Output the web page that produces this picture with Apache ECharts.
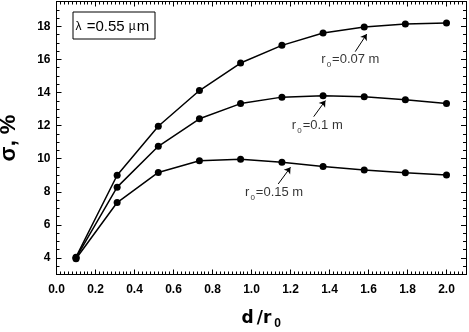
<!DOCTYPE html>
<html><head><meta charset="utf-8">
<script src="https://cdn.jsdelivr.net/npm/echarts@6/dist/echarts.min.js"></script>
<style>html,body{margin:0;padding:0;background:#fff}#c{width:469px;height:332px}</style>
</head><body><div id="c"></div>
<script>
// ---- data ----
const xValues   = [0.1, 0.311, 0.522, 0.733, 0.944, 1.156, 1.367, 1.578, 1.789, 2.0];
const sigmaR007 = [4.05, 9.0, 11.96, 14.12, 15.78, 16.85, 17.6, 17.96, 18.14, 18.2];
const sigmaR010 = [4.0, 8.28, 10.75, 12.41, 13.33, 13.72, 13.8, 13.74, 13.56, 13.33];
const sigmaR015 = [3.95, 7.35, 9.17, 9.88, 9.96, 9.78, 9.53, 9.31, 9.15, 9.01];
const radiusLabels = ['0.07', '0.1', '0.15'];
const xTickValues = [0, 0.2, 0.4, 0.6, 0.8, 1.0, 1.2, 1.4, 1.6, 1.8, 2.0];
const xTickLabels = ['0.0', '0.2', '0.4', '0.6', '0.8', '1.0', '1.2', '1.4', '1.6', '1.8', '2.0'];
const yTickValues = [4, 6, 8, 10, 12, 14, 16, 18];
const yTickLabels = ['4', '6', '8', '10', '12', '14', '16', '18'];
// annotation anchors (data units)
const labelAt   = [[1.358, 15.91], [1.207, 11.93], [0.967, 7.90]];
const arrowFrom = [[1.532, 16.47], [1.319, 12.54], [1.137, 8.47]];
const arrowTo   = [[1.591, 17.53], [1.379, 13.51], [1.200, 9.48]];

const BLACK = '#000';
const lineStyle = { color: BLACK, width: 1 };
function lookup(vals, labels, v) {
  const i = vals.findIndex(t => Math.abs(t - v) < 1e-6);
  return i >= 0 ? labels[i] : '';
}
function axis(pos, min, max, extra) {
  return Object.assign({
    type: 'value', position: pos, min: min, max: max,
    axisLine: { show: true, onZero: false, lineStyle: lineStyle },
    splitLine: { show: false },
    axisLabel: { show: false }
  }, extra);
}
const tickFont = { color: BLACK, fontFamily: 'Liberation Sans', fontWeight: 'bold', fontSize: 12 };

const xAxes = [
  axis('bottom', 0, 2.1, { interval: 0.02, axisTick: { inside: true, length: 3, lineStyle: lineStyle } }),
  axis('bottom', 0, 2.1, {
    interval: 0.2,
    axisTick: { inside: true, length: 5, lineStyle: lineStyle, customValues: xTickValues },
    axisLabel: Object.assign({ show: true, margin: 9, customValues: xTickValues,
      formatter: v => lookup(xTickValues, xTickLabels, v) }, tickFont),
    name: '{d|d}{sl|/}{r|r}{sub|0}', nameLocation: 'middle', nameGap: 33,
    nameTextStyle: { rich: {
      d:  { fontFamily: 'DejaVu Sans', fontWeight: 'bold', fontSize: 17, lineHeight: 19, verticalAlign: 'top', color: BLACK, padding: [0, 2, 0, 0] },
      sl: { fontFamily: 'DejaVu Sans', fontWeight: 'bold', fontSize: 17, lineHeight: 19, verticalAlign: 'top', color: BLACK, padding: [0, 0, 0, 1] },
      r:  { fontFamily: 'DejaVu Sans', fontWeight: 'bold', fontSize: 17, lineHeight: 19, verticalAlign: 'top', color: BLACK },
      sub:{ fontFamily: 'Liberation Sans', fontWeight: 'bold', fontSize: 12, lineHeight: 12, verticalAlign: 'bottom', color: BLACK, padding: [17, 0, 0, 3] }
    } }
  }),
  axis('top', 0, 2.1, { interval: 0.02, axisTick: { inside: true, length: 3, lineStyle: lineStyle } }),
  axis('top', 0, 2.1, { interval: 0.2, axisTick: { inside: true, length: 5, lineStyle: lineStyle, customValues: xTickValues } })
];
const yAxes = [
  axis('left', 3, 19.5, { interval: 0.5, axisTick: { inside: true, length: 3, lineStyle: lineStyle } }),
  axis('left', 3, 19.5, {
    axisTick: { inside: true, length: 5, lineStyle: lineStyle, customValues: yTickValues },
    axisLabel: Object.assign({ show: true, margin: 6, customValues: yTickValues,
      formatter: v => lookup(yTickValues, yTickLabels, v) }, tickFont),
    name: 'σ, %', nameLocation: 'middle', nameGap: 37, nameRotate: 90,
    nameTextStyle: { fontFamily: 'Liberation Sans', fontWeight: 'bold', fontSize: 22, color: BLACK }
  }),
  axis('right', 3, 19.5, { interval: 0.5, axisTick: { inside: true, length: 3, lineStyle: lineStyle } }),
  axis('right', 3, 19.5, { axisTick: { inside: true, length: 5, lineStyle: lineStyle, customValues: yTickValues } })
];

function curve(vals) {
  return {
    type: 'line', xAxisIndex: 0, yAxisIndex: 0,
    data: xValues.map((x, i) => [x, vals[i]]),
    symbol: 'circle', symbolSize: 7, showSymbol: true,
    itemStyle: { color: BLACK }, lineStyle: { color: BLACK, width: 1.5 },
    animation: false, z: 3
  };
}
const annRich = {
  r: { fontFamily: 'Liberation Sans', fontSize: 13, lineHeight: 16, verticalAlign: 'top', color: BLACK },
  s: { fontFamily: 'Liberation Sans', fontSize: 8, lineHeight: 8, verticalAlign: 'bottom', color: BLACK, padding: [10, 1, 0, 1] },
  t: { fontFamily: 'Liberation Sans', fontSize: 13, lineHeight: 16, verticalAlign: 'top', color: BLACK }
};

const option = {
  animation: false,
  backgroundColor: '#fff',
  grid: { left: 56.5, right: 3, top: 1.5, bottom: 57.5, containLabel: false, outerBoundsMode: 'none' },
  title: {
    left: 72.5, top: 11.5,
    text: '{g|λ}{t| =0.55 }{g|µ}{t|m}',
    borderColor: BLACK, borderWidth: 1, padding: [8, 6, 5, 3],
    textStyle: { fontWeight: 'normal', rich: {
      g: { fontFamily: 'Liberation Sans', fontWeight: 'normal', fontSize: 12, color: BLACK, padding: [0, 1, 0, 0] },
      t: { fontFamily: 'Liberation Sans', fontWeight: 'normal', fontSize: 15, color: BLACK }
    } }
  },
  xAxis: xAxes,
  yAxis: yAxes,
  series: [
    curve(sigmaR007), curve(sigmaR010), curve(sigmaR015),
    {
      type: 'lines', coordinateSystem: 'cartesian2d', xAxisIndex: 0, yAxisIndex: 0,
      symbol: ['none', 'arrow'], symbolSize: [0, 6],
      lineStyle: { color: BLACK, width: 1, opacity: 1 },
      data: arrowFrom.map((p, i) => ({ coords: [p, arrowTo[i]] })),
      z: 4
    },
    {
      type: 'scatter', xAxisIndex: 0, yAxisIndex: 0, symbolSize: 0,
      data: labelAt.map((p, i) => ({ value: p, rad: radiusLabels[i] })),
      label: {
        show: true, position: [0, 0], align: 'left', verticalAlign: 'middle',
        formatter: p => '{r|r}{s|0}{t|=' + p.data.rad + ' m}',
        rich: annRich
      },
      silent: true, z: 5
    }
  ]
};
const chart = echarts.init(document.getElementById('c'), null, { renderer: 'canvas' });
chart.setOption(option);
</script>
</body></html>
